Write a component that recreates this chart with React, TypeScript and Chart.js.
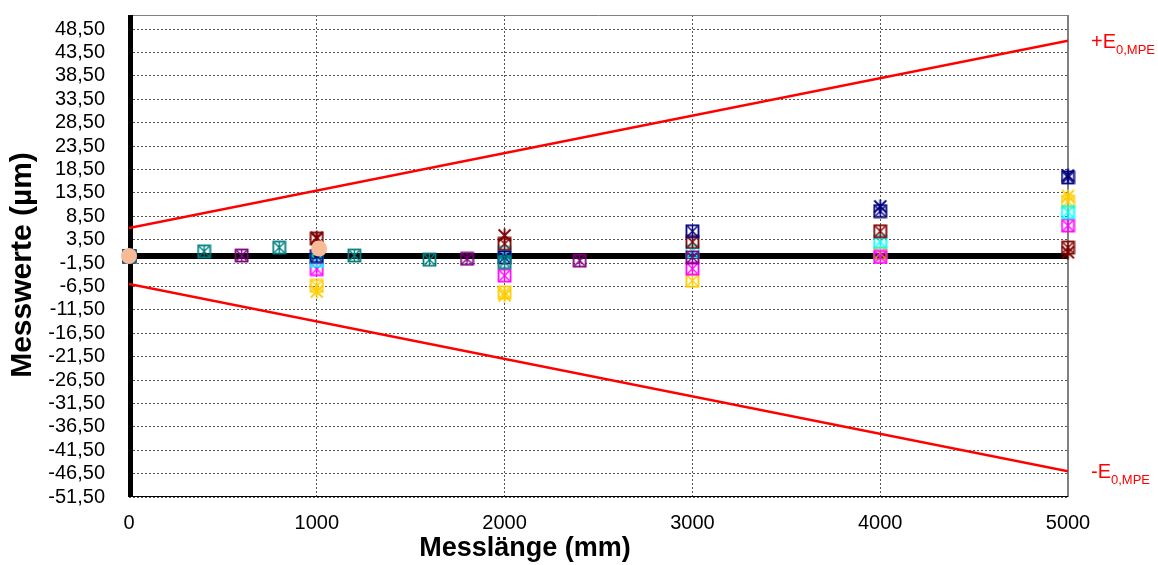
import React, { useEffect, useRef } from 'react';
import { Chart, registerables } from 'chart.js';

Chart.register(...registerables);

// ---- data ----
const lengths = [0, 1000, 2000, 3000, 4000, 5000];
const navyValues = [0, 0, -0.3, 5.3, 9.6, 16.8];
const darkRedValues = [0, 3.7, 2.6, 3.0, 5.3, 1.8];
const cyanValues = [0, -1.0, 0.8, 1.0, 3.0, 9.4];
const magentaValues = [0, -2.8, -4.2, -2.7, -0.2, 6.5];
const yellowValues = [0, -6.4, -7.8, -5.3, 0.6, 11.6];

const tealLengths = [0, 400, 800, 1200, 1600, 2000];
const tealValues = [0, 1.0, 1.8, 0.1, -0.8, -1.3];

const purpleLengths = [600, 1800, 2400, 3000];
const purpleValues = [0.1, -0.6, -1.0, -0.3];

const darkRedXLengths = [1000, 2000, 5000];
const darkRedXValues = [3.9, 4.4, 0.8];
const navyXLengths = [4000, 5000];
const navyXValues = [10.6, 17.2];
const yellowStarLengths = [1000, 2000, 5000];
const yellowStarValues = [-7.6, -8.4, 12.8];

const circleLengths = [0, 1012];
const circleValues = [0, 1.6];

const mpeLengths = [0, 5000];
const mpeUpper = [6, 46];
const mpeLower = [-6, -46];
const zeroLine = [0, 0];

const yTicks = [
  -51.5, -46.5, -41.5, -36.5, -31.5, -26.5, -21.5, -16.5, -11.5, -6.5, -1.5,
  3.5, 8.5, 13.5, 18.5, 23.5, 28.5, 33.5, 38.5, 43.5, 48.5,
];
const xTicks = [0, 1000, 2000, 3000, 4000, 5000];

const xTitle = 'Messlänge (mm)';
const yTitle = 'Messwerte (µm)';

const FONT = '"Liberation Sans", Arial, sans-serif';

function pts(xs: number[], ys: number[]) {
  return xs.map((x, i) => ({ x, y: ys[i] }));
}

function makeMarker(color: string): HTMLCanvasElement {
  const c = document.createElement('canvas');
  c.width = 15;
  c.height = 15;
  const ctx = c.getContext('2d')!;
  ctx.strokeStyle = color;
  ctx.lineWidth = 1.8;
  ctx.strokeRect(1.5, 1.5, 12, 12);
  ctx.lineWidth = 1.4;
  ctx.beginPath();
  ctx.moveTo(2.5, 2.5);
  ctx.lineTo(12.5, 12.5);
  ctx.moveTo(12.5, 2.5);
  ctx.lineTo(2.5, 12.5);
  ctx.moveTo(7.5, 1.5);
  ctx.lineTo(7.5, 13.5);
  ctx.stroke();
  return c;
}

function makeStar(color: string): HTMLCanvasElement {
  const c = document.createElement('canvas');
  c.width = 15;
  c.height = 15;
  const ctx = c.getContext('2d')!;
  ctx.strokeStyle = color;
  ctx.lineWidth = 1.8;
  ctx.beginPath();
  ctx.moveTo(1.5, 1.5);
  ctx.lineTo(13.5, 13.5);
  ctx.moveTo(13.5, 1.5);
  ctx.lineTo(1.5, 13.5);
  ctx.moveTo(7.5, 0.5);
  ctx.lineTo(7.5, 14.5);
  ctx.stroke();
  return c;
}

const framePlugin = {
  id: 'frame',
  beforeDatasetsDraw(chart: any) {
    const { ctx, chartArea: a } = chart;
    ctx.save();
    ctx.strokeStyle = '#808080';
    ctx.lineWidth = 1;
    ctx.beginPath();
    ctx.moveTo(a.left, a.top + 0.5);
    ctx.lineTo(a.right, a.top + 0.5);
    ctx.stroke();
    ctx.lineWidth = 2;
    ctx.beginPath();
    ctx.moveTo(a.right, a.top);
    ctx.lineTo(a.right, a.bottom);
    ctx.stroke();
    ctx.strokeStyle = '#000';
    ctx.lineWidth = 1;
    ctx.beginPath();
    ctx.moveTo(a.left, a.bottom - 0.5);
    ctx.lineTo(a.right, a.bottom - 0.5);
    ctx.stroke();
    ctx.fillStyle = '#000';
    ctx.fillRect(a.left - 1, a.top, 5, a.bottom - a.top);
    ctx.restore();
  },
  afterDraw(chart: any) {
    const { ctx, chartArea: a, scales } = chart;
    const y = scales.y;
    ctx.save();
    // axis titles
    ctx.fillStyle = '#000';
    ctx.font = `bold 27px ${FONT}`;
    ctx.textAlign = 'center';
    ctx.textBaseline = 'middle';
    ctx.fillText(xTitle, 525, 549);
    ctx.save();
    ctx.translate(23, 265);
    ctx.rotate(-Math.PI / 2);
    ctx.font = `bold 30px ${FONT}`;
    ctx.fillText(yTitle, 0, 0);
    ctx.restore();

    ctx.fillStyle = '#FF0000';
    ctx.textBaseline = 'alphabetic';
    ctx.textAlign = 'left';
    const drawLabel = (sign: string, val: number) => {
      const base = y.getPixelForValue(val) + 7;
      const x0 = a.right + 23;
      ctx.font = `20px ${FONT}`;
      const main = sign + 'E';
      ctx.fillText(main, x0, base);
      const w = ctx.measureText(main).width;
      ctx.font = `13px ${FONT}`;
      ctx.fillText('0,MPE', x0 + w, base + 6);
    };
    drawLabel('+', mpeUpper[1]);
    drawLabel('-', mpeLower[1]);
    ctx.restore();
  },
};

export default function App() {
  const ref = useRef<HTMLCanvasElement | null>(null);

  useEffect(() => {
    if (!ref.current) return;
    const markerDs = (xs: number[], ys: number[], color: string) => ({
      type: 'scatter' as const,
      data: pts(xs, ys),
      pointStyle: makeMarker(color),
      pointRadius: 7,
      showLine: false,
      clip: false,
      order: 2,
    });
    const starDs = (xs: number[], ys: number[], color: string) => ({
      type: 'scatter' as const,
      data: pts(xs, ys),
      pointStyle: makeStar(color),
      pointRadius: 7,
      showLine: false,
      clip: false,
      order: 3,
    });

    const chart = new Chart(ref.current, {
      type: 'scatter',
      data: {
        datasets: [
          {
            type: 'scatter',
            data: pts(circleLengths, circleValues),
            pointStyle: 'circle',
            pointRadius: 8,
            backgroundColor: '#F7BB98',
            borderColor: '#F7BB98',
            borderWidth: 0,
            clip: false,
            order: 0,
          } as any,
          markerDs(purpleLengths, purpleValues, '#800080'),
          markerDs(tealLengths, tealValues, '#008080'),
          markerDs(lengths, navyValues, '#000080'),
          markerDs(lengths, darkRedValues, '#800000'),
          markerDs(lengths, cyanValues, '#00FFFF'),
          markerDs(lengths, magentaValues, '#FF00FF'),
          markerDs(lengths, yellowValues, '#FFCC00'),
          starDs(darkRedXLengths, darkRedXValues, '#800000'),
          starDs(navyXLengths, navyXValues, '#000080'),
          starDs(yellowStarLengths, yellowStarValues, '#FFCC00'),
          {
            type: 'line',
            data: pts(mpeLengths, zeroLine),
            borderColor: '#000000',
            borderWidth: 6,
            pointRadius: 0,
            order: 10,
          } as any,
          {
            type: 'line',
            data: pts(mpeLengths, mpeUpper),
            borderColor: '#FF0000',
            borderWidth: 2.5,
            pointRadius: 0,
            order: 10,
          } as any,
          {
            type: 'line',
            data: pts(mpeLengths, mpeLower),
            borderColor: '#FF0000',
            borderWidth: 2.5,
            pointRadius: 0,
            order: 10,
          } as any,
        ],
      },
      options: {
        animation: false,
        responsive: false,
        layout: { padding: { top: 15, right: 90, left: 0, bottom: 0 } },
        plugins: {
          legend: { display: false },
          tooltip: { enabled: false },
        },
        scales: {
          x: {
            type: 'linear',
            min: 0,
            max: 5000,
            afterFit: (s: any) => {
              s.height = 68;
              s.paddingLeft = 0;
              s.paddingRight = 0;
            },
            afterBuildTicks: (s: any) => {
              s.ticks = xTicks.map((v) => ({ value: v }));
            },
            ticks: {
              color: '#000',
              font: { family: FONT, size: 20 },
              padding: 14,
              maxRotation: 0,
              callback: (v: any) => String(v),
            },
            grid: {
              color: '#555',
              lineWidth: 1,
              drawTicks: false,
            },
            border: { display: false, dash: [2, 2] },
            title: { display: false },
          },
          y: {
            type: 'linear',
            min: -51.5,
            max: 51.5,
            afterFit: (s: any) => {
              s.width = 129;
              s.paddingTop = 0;
              s.paddingBottom = 0;
            },
            afterBuildTicks: (s: any) => {
              s.ticks = yTicks.map((v) => ({ value: v }));
            },
            ticks: {
              color: '#000',
              font: { family: FONT, size: 20 },
              padding: 24,
              autoSkip: false,
              callback: (v: any) => Number(v).toFixed(2).replace('.', ','),
            },
            grid: {
              color: '#555',
              lineWidth: 1,
              drawTicks: false,
            },
            border: { display: false, dash: [2, 2] },
            title: { display: false },
          },
        },
      },
      plugins: [framePlugin],
    } as any);
    return () => chart.destroy();
  }, []);

  return (
    <div style={{ position: 'absolute', left: 0, top: 0, width: 1158, height: 565 }}>
      <canvas ref={ref} width={1158} height={565} style={{ display: 'block' }} />
    </div>
  );
}
